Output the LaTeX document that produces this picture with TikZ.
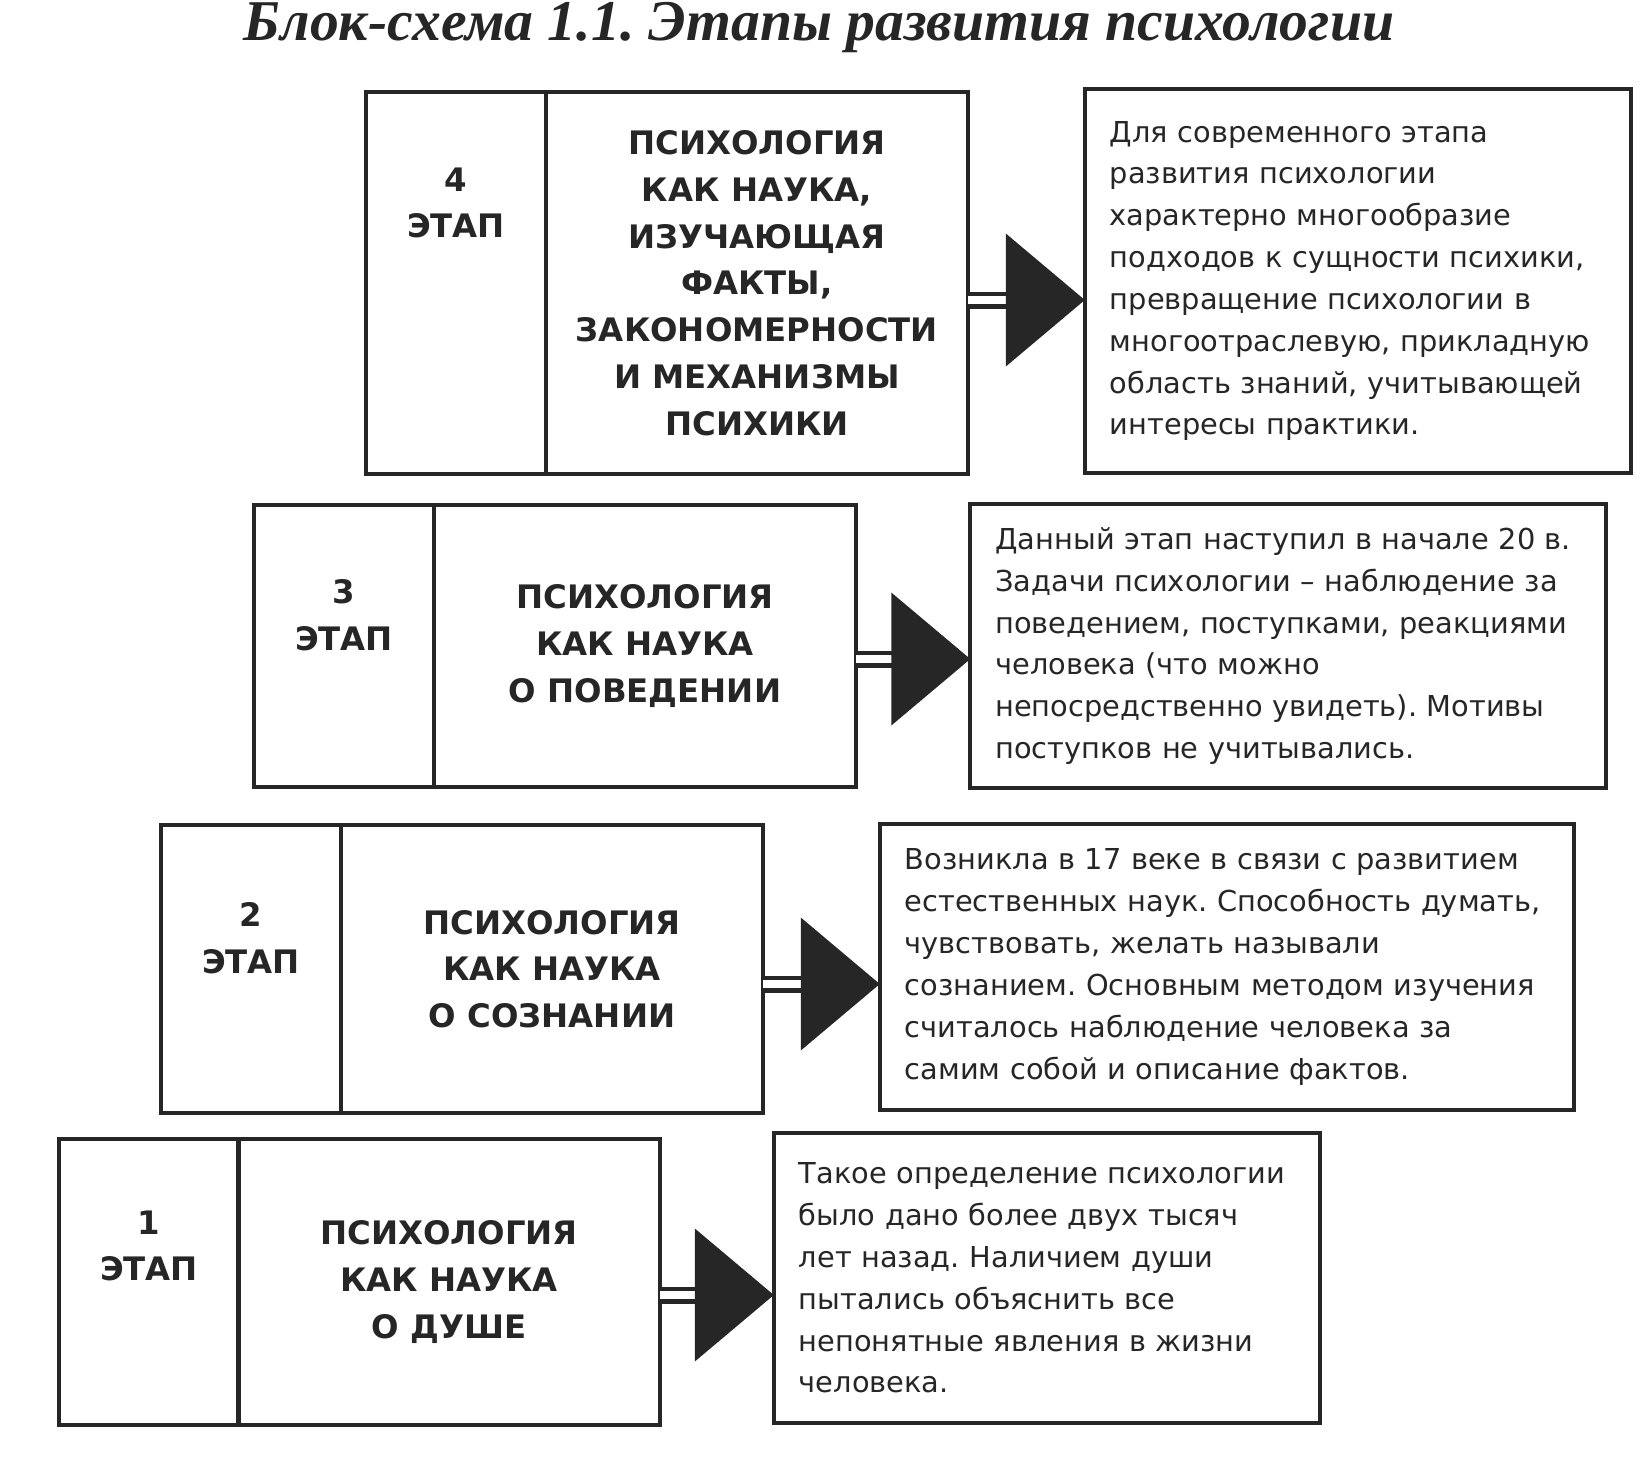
\documentclass[tikz,border=0pt]{standalone}
\usepackage{fontspec}
\setmainfont{DejaVu Sans}
\newfontfamily\titlefont{Liberation Serif}
\usetikzlibrary{arrows.meta}
\frenchspacing

\tikzset{
  framebox/.style={draw=black!85, line width=0.04cm, outer sep=0pt, inner sep=0pt},
  stagetext/.style={align=center, text=black!85, font=\fontsize{9.2}{13.3}\selectfont\bfseries},
  namebox/.style={framebox, stagetext, minimum width=4.22cm},
  numbox/.style={framebox, minimum width=1.8cm},
  descbox/.style={framebox, inner xsep=0.25cm, align=left, text=black!85, font=\fontsize{8.2}{11.9}\selectfont},
  stagearrow/.style={draw=black!85, line width=0.045cm, double, double distance=0.08cm,
    -{Triangle[length=0.79cm, width=1.32cm]}}
}

\begin{document}
\begin{tikzpicture}[x=0.01cm, y=-0.01cm]
\useasboundingbox (0,0) rectangle (1645,1479);

% title
\node[anchor=base, inner sep=0pt, text=black!85, font=\titlefont\fontsize{16.4}{19}\selectfont\bfseries\itshape] (title) at (819,41) {Блок-схема 1.1. Этапы развития психологии};

% stage 4
\node[numbox, minimum height=3.82cm] (s4num) at (456,283) {};
\node[stagetext] (s4numtxt) at (456,203) {4\\ЭТАП};
\node[namebox, minimum height=3.82cm] (s4name) at (757,283) {ПСИХОЛОГИЯ\\КАК НАУКА,\\ИЗУЧАЮЩАЯ\\ФАКТЫ,\\ЗАКОНОМЕРНОСТИ\\И МЕХАНИЗМЫ\\ПСИХИКИ};
\node[descbox, text width=4.96cm, minimum height=3.83cm] (s4desc) at (1358,281) {Для современного этапа\\развития психологии\\характерно многообразие\\подходов к сущности психики,\\превращение психологии в\\многоотраслевую, прикладную\\область знаний, учитывающей\\интересы практики.};
\draw[stagearrow] ([yshift=-0.17cm]s4name.east) -- ([yshift=-0.17cm]s4name.east -| s4desc.west);

% stage 3
\node[numbox, minimum height=2.82cm] (s3num) at (344,646) {};
\node[stagetext] (s3numtxt) at (344,615) {3\\ЭТАП};
\node[namebox, minimum height=2.82cm] (s3name) at (645,646) {ПСИХОЛОГИЯ\\КАК НАУКА\\О ПОВЕДЕНИИ};
\node[descbox, text width=5.85cm, minimum height=2.84cm] (s3desc) at (1288,646) {Данный этап наступил в начале 20 в.\\Задачи психологии -- наблюдение за\\поведением, поступками, реакциями\\человека (что можно\\непосредственно увидеть). Мотивы\\поступков не учитывались.};
\draw[stagearrow] ([yshift=-0.13cm]s3name.east) -- ([yshift=-0.13cm]s3name.east -| s3desc.west);

% stage 2
\node[numbox, minimum height=2.87cm] (s2num) at (251,969) {};
\node[stagetext] (s2numtxt) at (251,938) {2\\ЭТАП};
\node[namebox, minimum height=2.87cm] (s2name) at (552,969) {ПСИХОЛОГИЯ\\КАК НАУКА\\О СОЗНАНИИ};
\node[descbox, text width=6.44cm, minimum height=2.86cm] (s2desc) at (1227,967) {Возникла в 17 веке в связи с развитием\\естественных наук. Способность думать,\\чувствовать, желать называли\\сознанием. Основным методом изучения\\считалось наблюдение человека за\\самим собой и описание фактов.};
\draw[stagearrow] ([yshift=-0.15cm]s2name.east) -- ([yshift=-0.15cm]s2name.east -| s2desc.west);

% stage 1
\node[numbox, minimum height=2.85cm] (s1num) at (149,1282) {};
\node[stagetext] (s1numtxt) at (149,1246) {1\\ЭТАП};
\node[namebox, minimum height=2.85cm] (s1name) at (449,1282) {ПСИХОЛОГИЯ\\КАК НАУКА\\О ДУШЕ};
\node[descbox, text width=4.96cm, minimum height=2.89cm] (s1desc) at (1047,1278) {Такое определение психологии\\было дано более двух тысяч\\лет назад. Наличием души\\пытались объяснить все\\непонятные явления в жизни\\человека.};
\draw[stagearrow] ([yshift=-0.13cm]s1name.east) -- ([yshift=-0.13cm]s1name.east -| s1desc.west);
\end{tikzpicture}
\end{document}
